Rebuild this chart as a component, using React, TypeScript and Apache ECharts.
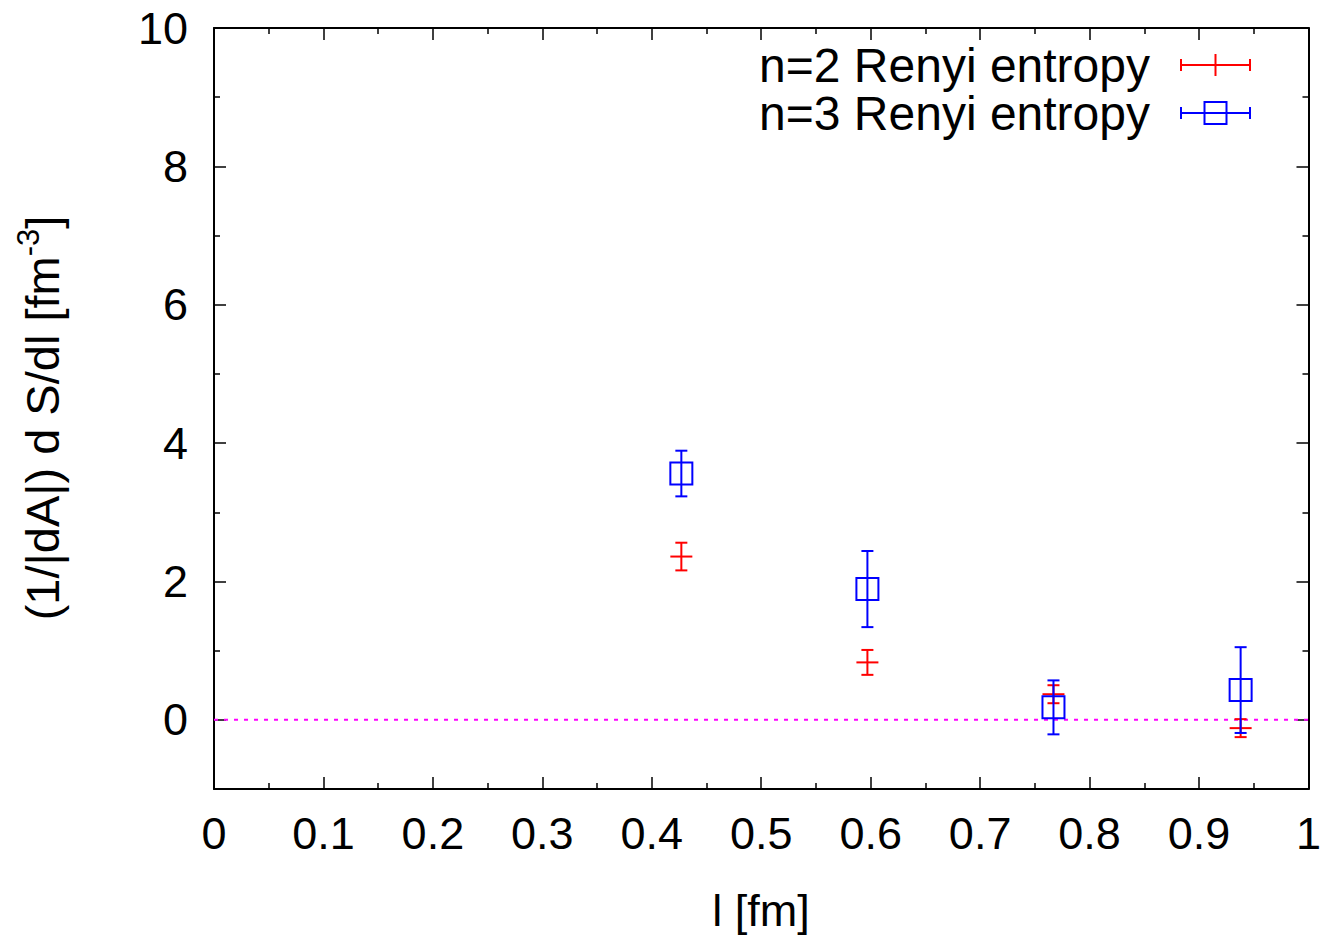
import React, { useEffect, useRef } from "react";
import * as echarts from "echarts";

// ---- data ----
const lValues = [0.427, 0.597, 0.767, 0.938];
const renyi2 = [2.36, 0.83, 0.37, -0.12];
const renyi2Err = [0.2, 0.18, 0.13, 0.13];
const renyi3 = [3.56, 1.89, 0.18, 0.43];
const renyi3Err = [0.33, 0.55, 0.39, 0.62];
const yTickLabels = [0, 2, 4, 6, 8, 10];
const yMinorTicks = [-1, 1, 3, 5, 7, 9];
const zeroLine = [
  [0, 0],
  [1, 0],
];
const legendLabels = ["n=2 Renyi entropy", "n=3 Renyi entropy"];

const FONT = "Liberation Sans";
const RED = "#ff0000";
const BLUE = "#0000ff";

function makeErrorSeries(name: string, ys: number[], errs: number[], color: string, marker: "cross" | "square") {
  const data = lValues.map((x, i) => [x, ys[i], errs[i]]);
  return {
    type: "custom",
    name,
    xAxisIndex: 0,
    yAxisIndex: 0,
    data,
    z: 5,
    renderItem: (params: any, api: any) => {
      const x = api.value(0);
      const y = api.value(1);
      const e = api.value(2);
      const c = api.coord([x, y]);
      const t = api.coord([x, y + e]);
      const b = api.coord([x, y - e]);
      const cap = 6;
      const ls = { stroke: color, lineWidth: 2 };
      const children: any[] = [
        { type: "line", shape: { x1: c[0], y1: t[1], x2: c[0], y2: b[1] }, style: ls },
        { type: "line", shape: { x1: c[0] - cap, y1: t[1], x2: c[0] + cap, y2: t[1] }, style: ls },
        { type: "line", shape: { x1: c[0] - cap, y1: b[1], x2: c[0] + cap, y2: b[1] }, style: ls },
      ];
      if (marker === "cross") {
        children.push({ type: "line", shape: { x1: c[0] - 11, y1: c[1], x2: c[0] + 11, y2: c[1] }, style: ls });
      } else {
        children.push({
          type: "rect",
          shape: { x: c[0] - 11, y: c[1] - 11, width: 22, height: 22 },
          style: { stroke: color, lineWidth: 2, fill: "none" },
        });
      }
      return { type: "group", children };
    },
  };
}

export default function App() {
  const ref = useRef<HTMLDivElement>(null);

  useEffect(() => {
    if (!ref.current) return;
    const chart = echarts.init(ref.current, undefined, { renderer: "svg" });
    const axisLine = { show: true, onZero: false, lineStyle: { color: "#000", width: 2 } };
    const noLine = { show: false, onZero: false };
    const tickStyle = { color: "#000", width: 1.5 };
    const labelStyle = { fontFamily: FONT, fontSize: 45, color: "#000" };

    const xCommon = {
      type: "value",
      min: 0,
      max: 1,
      interval: 0.1,
      axisLine,
      splitLine: { show: false },
      axisTick: { show: true, inside: true, length: 12, lineStyle: tickStyle },
      minorTick: { show: true, splitNumber: 2, length: 6, lineStyle: tickStyle },
    };
    const yCommon = {
      type: "value",
      min: -1,
      max: 10,
      interval: 1,
      splitLine: { show: false },
    };

    const legendY = [65, 113];
    const sx1 = 1181;
    const sx2 = 1250;
    const sxc = (sx1 + sx2) / 2;

    chart.setOption({
      animation: false,
      backgroundColor: "#fff",
      grid: { left: 214, right: 15, top: 28, bottom: 148 },
      xAxis: [
        {
          ...xCommon,
          position: "bottom",
          axisLabel: { ...labelStyle, margin: 22 },
        },
        {
          ...xCommon,
          position: "top",
          axisLabel: { show: false },
        },
      ],
      yAxis: [
        {
          ...yCommon,
          position: "left",
          axisLine,
          axisTick: { show: true, inside: true, length: 12, customValues: yTickLabels, lineStyle: tickStyle },
          axisLabel: { ...labelStyle, margin: 26, customValues: yTickLabels },
        },
        {
          ...yCommon,
          position: "right",
          axisLine,
          axisTick: { show: true, inside: true, length: 12, customValues: yTickLabels, lineStyle: tickStyle },
          axisLabel: { show: false },
        },
        {
          ...yCommon,
          position: "left",
          axisLine: noLine,
          axisTick: { show: true, inside: true, length: 6, customValues: yMinorTicks, lineStyle: tickStyle },
          axisLabel: { show: false },
        },
        {
          ...yCommon,
          position: "right",
          axisLine: noLine,
          axisTick: { show: true, inside: true, length: 6, customValues: yMinorTicks, lineStyle: tickStyle },
          axisLabel: { show: false },
        },
      ],
      series: [
        {
          type: "line",
          data: zeroLine,
          xAxisIndex: 0,
          yAxisIndex: 0,
          symbol: "none",
          z: 4,
          lineStyle: { color: "#ff00ff", width: 2, type: [4, 6] },
          silent: true,
        },
        makeErrorSeries(legendLabels[0], renyi2, renyi2Err, RED, "cross"),
        makeErrorSeries(legendLabels[1], renyi3, renyi3Err, BLUE, "square"),
      ],
      graphic: [
        {
          type: "text",
          x: 42,
          y: 418,
          rotation: Math.PI / 2,
          style: {
            text: "{a|(1/|dA|) d S/dl [fm}{s|-3}{a|]}",
            align: "center",
            verticalAlign: "middle",
            fill: "#000",
            rich: {
              a: { fontFamily: FONT, fontSize: 47, lineHeight: 58 },
              s: { fontFamily: FONT, fontSize: 31, lineHeight: 31, verticalAlign: "top" },
            },
          },
        },
        {
          type: "text",
          x: 761,
          y: 910,
          style: {
            text: "l [fm]",
            align: "center",
            verticalAlign: "middle",
            fill: "#000",
            fontFamily: FONT,
            fontSize: 45,
          },
        },
        {
          type: "text",
          x: 1150,
          y: legendY[0],
          style: {
            text: legendLabels[0],
            align: "right",
            verticalAlign: "middle",
            fill: "#000",
            fontFamily: FONT,
            fontSize: 48,
          },
        },
        {
          type: "text",
          x: 1150,
          y: legendY[1],
          style: {
            text: legendLabels[1],
            align: "right",
            verticalAlign: "middle",
            fill: "#000",
            fontFamily: FONT,
            fontSize: 48,
          },
        },
        // legend sample: n=2
        { type: "line", shape: { x1: sx1, y1: legendY[0], x2: sx2, y2: legendY[0] }, style: { stroke: RED, lineWidth: 2 } },
        { type: "line", shape: { x1: sx1, y1: legendY[0] - 6, x2: sx1, y2: legendY[0] + 6 }, style: { stroke: RED, lineWidth: 2 } },
        { type: "line", shape: { x1: sx2, y1: legendY[0] - 6, x2: sx2, y2: legendY[0] + 6 }, style: { stroke: RED, lineWidth: 2 } },
        { type: "line", shape: { x1: sxc, y1: legendY[0] - 11, x2: sxc, y2: legendY[0] + 11 }, style: { stroke: RED, lineWidth: 2 } },
        // legend sample: n=3
        { type: "line", shape: { x1: sx1, y1: legendY[1], x2: sx2, y2: legendY[1] }, style: { stroke: BLUE, lineWidth: 2 } },
        { type: "line", shape: { x1: sx1, y1: legendY[1] - 6, x2: sx1, y2: legendY[1] + 6 }, style: { stroke: BLUE, lineWidth: 2 } },
        { type: "line", shape: { x1: sx2, y1: legendY[1] - 6, x2: sx2, y2: legendY[1] + 6 }, style: { stroke: BLUE, lineWidth: 2 } },
        {
          type: "rect",
          shape: { x: sxc - 11, y: legendY[1] - 11, width: 22, height: 22 },
          style: { stroke: BLUE, lineWidth: 2, fill: "none" },
        },
      ],
    });
    return () => chart.dispose();
  }, []);

  return (
    <div
      ref={ref}
      style={{ position: "fixed", left: 0, top: 0, width: 1324, height: 937, background: "#fff" }}
    />
  );
}
